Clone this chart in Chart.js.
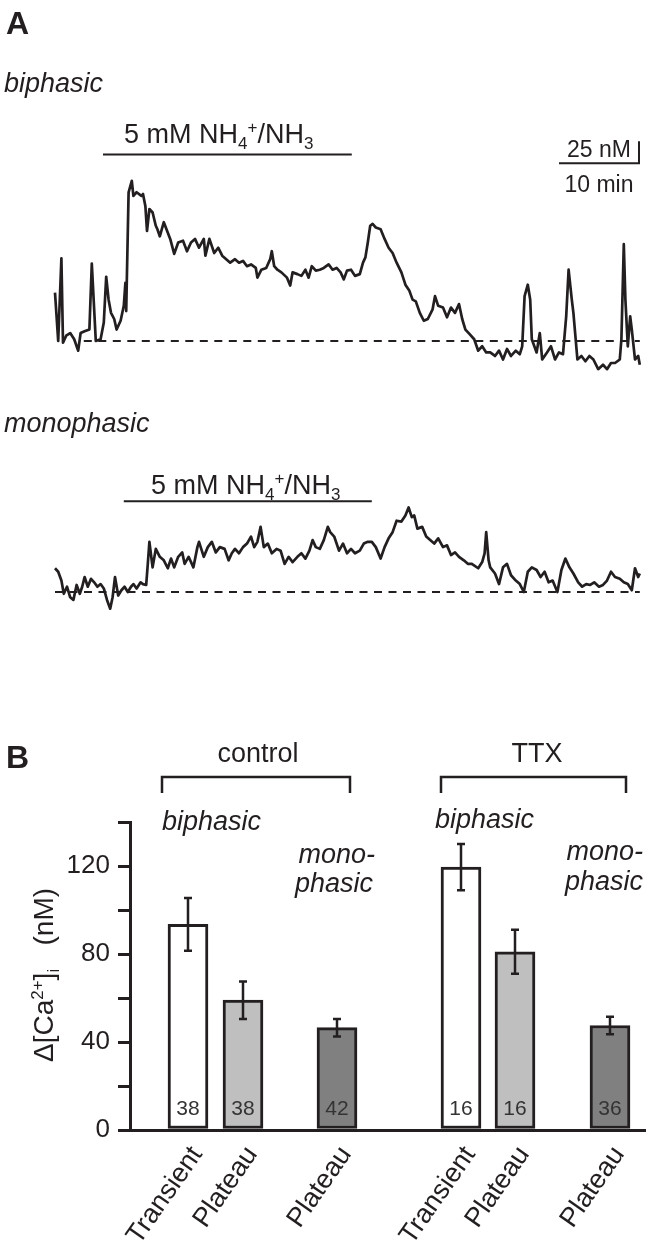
<!DOCTYPE html>
<html>
<head>
<meta charset="utf-8">
<script src="https://cdn.jsdelivr.net/npm/chart.js@4.4.1/dist/chart.umd.min.js"></script>
<style>
  html, body { margin: 0; padding: 0; background: #fff; }
  #fig { position: relative; width: 650px; height: 1252px; }
  canvas { position: absolute; left: 0; }
</style>
</head>
<body>
<div id="fig">
  <canvas id="traceBi" width="650" height="395" style="top:0"></canvas>
  <canvas id="traceMono" width="650" height="245" style="top:395px"></canvas>
  <canvas id="bars" width="650" height="612" style="top:640px"></canvas>
</div>
<script>
// --- panel A: traces, time in min, delta [Ca2+]i in nM
const biphasicTime = [0,0.4,0.8,1.0,1.4,1.9,2.4,2.9,3.2,3.7,4.3,4.6,5.1,5.7,6.1,6.4,6.7,7.0,7.4,7.7,
  8.2,8.6,8.8,8.9,9.2,9.6,9.8,10.2,10.8,11.0,11.3,11.5,11.8,12.2,12.6,12.8,13.1,13.6,14.1,14.4,
  14.9,15.4,16.0,16.5,17.0,17.5,18.0,18.6,18.8,19.3,19.9,20.4,20.9,21.4,21.9,22.5,23.0,23.5,24.0,24.5,
  25.1,25.3,25.8,26.4,26.9,27.1,27.4,27.8,28.3,29.0,29.4,29.7,30.3,30.8,31.3,31.7,32.1,32.6,33.1,33.6,
  34.2,34.7,35.2,35.7,36.1,36.5,37.0,37.5,38.1,38.5,38.8,39.1,39.4,39.7,40.1,40.7,41.2,41.7,42.2,42.7,
  43.3,43.8,44.3,44.7,45.1,45.6,46.1,46.6,47.2,47.5,47.9,48.5,49.0,49.5,50.0,50.5,50.9,51.3,51.8,52.4,
  52.9,53.4,53.9,54.4,55.0,55.5,56.0,56.5,57.0,57.6,58.1,58.4,58.7,59.1,59.4,59.6,60.2,60.6,60.9,61.5,
  62.0,62.5,63.0,63.5,63.9,64.2,64.6,64.8,65.3,65.8,66.3,66.8,67.3,67.9,68.5,69.0,69.5,70.0,70.6,70.8,
  71.1,71.3,71.6,71.9,72.1,72.5,72.9,73.1];
const biphasicCa = [55,0,94,-2,6,9,2,-11,9,11,13,88,0,2,21,73,47,32,25,13,
  23,40,66,34,169,182,165,169,165,167,153,125,150,146,131,127,119,135,123,116,
  99,112,114,102,112,116,106,116,97,116,100,106,97,93,89,93,89,91,85,87,
  83,72,81,83,93,102,85,81,78,72,63,78,76,74,81,72,85,80,81,83,
  87,81,83,78,70,80,81,74,76,89,95,112,131,133,129,127,116,106,100,89,
  78,64,57,47,45,32,23,25,36,51,40,38,27,38,32,42,25,13,8,2,
  -11,-6,-13,-13,-17,-11,-21,-9,-17,-11,-15,-6,51,64,47,2,-13,9,-21,-13,
  -6,-21,-13,-15,28,81,47,32,-21,-17,-23,-17,-21,-32,-27,-32,-25,-25,-21,2,
  110,47,-6,28,13,-21,-17,-27];

const monophasicTime = [0,0.4,0.8,1.1,1.5,1.9,2.3,2.7,3.1,3.4,3.7,4.1,4.5,4.9,5.3,5.7,6.1,6.5,6.9,7.2,
  7.5,7.9,8.3,8.7,9.1,9.5,9.8,10.2,10.7,11.0,11.4,11.6,11.8,12.2,12.6,13.1,13.6,14.1,14.5,14.9,
  15.4,15.9,16.2,16.7,17.3,17.8,18.0,18.6,19.1,19.6,20.1,20.6,21.2,21.7,22.1,22.5,23.0,23.5,24.0,24.5,
  24.9,25.3,25.7,26.1,26.6,27.1,27.7,28.2,28.7,29.2,29.7,30.3,30.8,31.3,31.8,32.2,32.6,33.1,33.6,34.1,
  34.4,34.9,35.5,36.0,36.5,37.0,37.5,38.1,38.6,39.1,39.6,40.1,40.7,41.2,41.7,42.2,42.7,43.3,43.8,44.2,
  44.6,44.9,45.3,45.9,46.4,46.9,47.4,47.9,48.5,49.0,49.5,50.0,50.5,51.1,51.6,52.1,52.9,53.4,53.7,53.9,
  54.2,54.4,55.0,55.5,56.0,56.5,57.0,57.6,58.1,58.6,59.1,59.6,60.2,60.7,61.2,61.7,62.2,62.8,63.3,63.8,
  64.3,64.8,65.4,65.9,66.4,66.9,67.4,68.0,68.5,69.0,69.5,70.0,70.6,71.1,71.6,72.1,72.5,72.9,73.1];
const monophasicCa = [27,23,13,-2,6,-6,-9,8,-2,6,17,6,15,11,6,9,4,-9,-19,-6,
  17,-4,2,6,0,6,9,4,11,9,8,32,57,28,49,40,36,27,38,28,
  40,45,32,40,28,51,57,40,51,57,45,51,49,36,44,49,44,51,55,63,
  51,57,74,51,55,44,49,47,32,40,34,40,44,38,47,59,51,49,59,74,
  68,63,47,55,44,49,44,47,55,57,57,51,38,51,61,68,81,80,87,96,
  85,87,72,74,63,59,55,61,51,53,42,45,40,36,32,32,27,34,44,68,
  36,28,21,9,28,32,19,13,9,0,23,28,25,17,23,11,13,0,25,38,
  28,21,11,6,9,8,11,6,8,13,23,17,15,11,9,2,27,17,21];

// NH4+/NH3 application windows (min) and scale bar
const stimBiphasic = [6.0, 37.1];
const stimMonophasic = [8.6, 39.6];
const scaleBarMin = 10;
const scaleBarNM = 25;

// --- panel B: bars
const barLabels = ['Transient', 'Plateau', 'Plateau', 'Transient', 'Plateau', 'Plateau'];
const barMeans = [93.5, 59, 46.5, 119.5, 81, 47.5];
const barErrors = [12, 8.5, 4, 10.5, 10, 4];
const barCounts = [38, 38, 42, 16, 16, 36];
const groupLabels = ['control', 'TTX'];
const yTicks = [0, 20, 40, 60, 80, 100, 120, 140];

// layout
const INK = '#231f20';
const FONT = '"Liberation Sans", Arial, Helvetica, sans-serif';
const PX_PER_MIN = 8, PX_PER_NM = 0.88, TRACE_X0 = 55;
const BAR_X = [188, 243, 337, 461, 515, 610];
const barFills = ['#ffffff', '#bfbfbf', '#808080', '#ffffff', '#bfbfbf', '#808080'];

Chart.defaults.font.family = FONT;
Chart.defaults.color = INK;

function rich(ctx, parts, x, y, size, align, style) {
  const st = style || '';
  const fontFor = k => st + (k ? Math.round(size * 0.62) : size) + 'px ' + FONT;
  let w = 0;
  parts.forEach(([t, k]) => { ctx.font = fontFor(k); w += ctx.measureText(t).width; });
  let cx = align === 'center' ? x - w / 2 : align === 'right' ? x - w : x;
  ctx.textAlign = 'left';
  ctx.textBaseline = 'alphabetic';
  ctx.fillStyle = INK;
  parts.forEach(([t, k]) => {
    ctx.font = fontFor(k);
    const dy = k === 'sub' ? size * 0.22 : k === 'sup' ? -size * 0.36 : 0;
    ctx.fillText(t, cx, y + dy);
    cx += ctx.measureText(t).width;
  });
}

function line(ctx, pts, w) {
  ctx.save();
  ctx.strokeStyle = INK;
  ctx.lineWidth = w;
  ctx.beginPath();
  pts.forEach((p, i) => i ? ctx.lineTo(p[0], p[1]) : ctx.moveTo(p[0], p[1]));
  ctx.stroke();
  ctx.restore();
}

const nh4 = [['5 mM NH', ''], ['4', 'sub'], ['+', 'sup'], ['/NH', ''], ['3', 'sub']];

function traceChart(id, times, values, baselinePx, dashFrom, drawExtra) {
  const canvas = document.getElementById(id);
  const H = canvas.height;
  return new Chart(canvas, {
    type: 'line',
    data: {
      datasets: [
        { data: times.map((t, i) => ({ x: t, y: values[i] })), borderColor: INK, borderWidth: 2.7,
          pointRadius: 0, tension: 0, borderJoinStyle: 'round' },
        { data: [{ x: dashFrom, y: 0 }, { x: times[times.length - 1], y: 0 }], borderColor: INK,
          borderWidth: 2, borderDash: [8, 6.5], pointRadius: 0 }
      ]
    },
    options: {
      responsive: false, animation: false, devicePixelRatio: 1,
      layout: { padding: 0 },
      plugins: { legend: { display: false }, tooltip: { enabled: false } },
      scales: {
        x: { type: 'linear', display: false, min: -TRACE_X0 / PX_PER_MIN, max: (650 - TRACE_X0) / PX_PER_MIN },
        y: { type: 'linear', display: false, min: -(H - baselinePx) / PX_PER_NM, max: baselinePx / PX_PER_NM }
      }
    },
    plugins: [{ id: 'annot', afterDraw: c => drawExtra(c) }]
  });
}

traceChart('traceBi', biphasicTime, biphasicCa, 341, 3.6, c => {
  const ctx = c.ctx, xs = c.scales.x, ys = c.scales.y;
  rich(ctx, [['A', '']], 6, 34, 32, 'left', 'bold ');
  rich(ctx, [['biphasic', '']], 4, 92, 27, 'left', 'italic ');
  const yStim = ys.getPixelForValue(212);
  line(ctx, [[xs.getPixelForValue(stimBiphasic[0]), yStim], [xs.getPixelForValue(stimBiphasic[1]), yStim]], 2);
  rich(ctx, nh4, 124, 143, 27, 'left');
  // scale bar
  const x1 = xs.getPixelForValue(73), x0 = xs.getPixelForValue(73 - scaleBarMin);
  const y0 = ys.getPixelForValue(202), y1 = ys.getPixelForValue(202 + scaleBarNM);
  line(ctx, [[x0, y0], [x1, y0], [x1, y1]], 2);
  rich(ctx, [['25 nM', '']], x1 - 8, y0 - 6, 23, 'right');
  rich(ctx, [['10 min', '']], (x0 + x1) / 2, y0 + 29, 23, 'center');
});

traceChart('traceMono', monophasicTime, monophasicCa, 197, 0, c => {
  const ctx = c.ctx, xs = c.scales.x, ys = c.scales.y;
  rich(ctx, [['monophasic', '']], 4, 37, 27, 'left', 'italic ');
  const yStim = ys.getPixelForValue(103);
  line(ctx, [[xs.getPixelForValue(stimMonophasic[0]), yStim], [xs.getPixelForValue(stimMonophasic[1]), yStim]], 2);
  rich(ctx, nh4, 151, 99, 27, 'left');
});

new Chart(document.getElementById('bars'), {
  type: 'bar',
  data: {
    datasets: [{
      data: barMeans.map((m, i) => ({ x: BAR_X[i], y: m })),
      backgroundColor: barFills,
      borderColor: INK,
      borderWidth: 3,
      borderSkipped: false,
      barThickness: 40
    }]
  },
  options: {
    responsive: false, animation: false, devicePixelRatio: 1,
    layout: { padding: { top: 182, right: 5, left: 0, bottom: 0 } },
    plugins: { legend: { display: false }, tooltip: { enabled: false } },
    scales: {
      x: {
        type: 'linear', min: 130, max: 645, offset: false,
        grid: { display: false }, ticks: { display: false },
        border: { display: true, color: INK, width: 3 },
        afterFit: s => { s.height = 122; }
      },
      y: {
        min: 0, max: 140,
        afterBuildTicks: s => { s.ticks = yTicks.map(v => ({ value: v })); },
        ticks: { callback: v => (v % 40 === 0 ? String(v) : ''), color: INK, font: { size: 26 }, padding: 8 },
        grid: { drawOnChartArea: false, tickLength: 12, color: INK, lineWidth: 3, tickWidth: 3 },
        border: { color: INK, width: 3 },
        afterFit: s => { s.width = 130; }
      }
    }
  },
  plugins: [{
    id: 'extras',
    afterDatasetsDraw(c) {
      const ctx = c.ctx, xs = c.scales.x, ys = c.scales.y;
      const y0 = ys.getPixelForValue(0);
      barMeans.forEach((m, i) => {
        const x = xs.getPixelForValue(BAR_X[i]);
        const top = ys.getPixelForValue(m + barErrors[i]);
        const bot = ys.getPixelForValue(m - barErrors[i]);
        ctx.save();
        ctx.strokeStyle = INK;
        ctx.lineWidth = 2.5;
        ctx.beginPath();
        ctx.moveTo(x, top); ctx.lineTo(x, bot);
        ctx.moveTo(x - 4, top); ctx.lineTo(x + 4, top);
        ctx.moveTo(x - 4, bot); ctx.lineTo(x + 4, bot);
        ctx.stroke();
        ctx.fillStyle = '#333333';
        ctx.font = '21px ' + FONT;
        ctx.textAlign = 'center';
        ctx.textBaseline = 'alphabetic';
        ctx.fillText(String(barCounts[i]), x, y0 - 15);
        ctx.translate(x - 2, y0 + 12);
        ctx.rotate(-55 * Math.PI / 180);
        ctx.textAlign = 'right';
        ctx.textBaseline = 'top';
        ctx.fillStyle = INK;
        ctx.font = '27px ' + FONT;
        ctx.fillText(barLabels[i], 0, 0);
        ctx.restore();
      });
    },
    afterDraw(c) {
      const ctx = c.ctx;
      rich(ctx, [['B', '']], 6, 128, 32, 'left', 'bold ');
      rich(ctx, [[groupLabels[0], '']], 258, 122, 27, 'center');
      rich(ctx, [[groupLabels[1], '']], 537, 122, 27, 'center');
      line(ctx, [[162, 153], [162, 137], [350, 137], [350, 153]], 2.5);
      line(ctx, [[441, 153], [441, 137], [626, 137], [626, 153]], 2.5);
      rich(ctx, [['biphasic', '']], 162, 190, 27, 'left', 'italic ');
      rich(ctx, [['biphasic', '']], 435, 188, 27, 'left', 'italic ');
      rich(ctx, [['mono-', '']], 375, 223, 27, 'right', 'italic ');
      rich(ctx, [['phasic', '']], 373, 252, 27, 'right', 'italic ');
      rich(ctx, [['mono-', '']], 643, 220, 27, 'right', 'italic ');
      rich(ctx, [['phasic', '']], 643, 250, 27, 'right', 'italic ');
      ctx.save();
      ctx.translate(53, 335);
      ctx.rotate(-Math.PI / 2);
      rich(ctx, [['\u0394[Ca', ''], ['2+', 'sup'], [']', ''], ['i', 'sub'], ['   (nM)', '']], 0, 0, 28, 'center');
      ctx.restore();
    }
  }]
});
</script>
</body>
</html>
